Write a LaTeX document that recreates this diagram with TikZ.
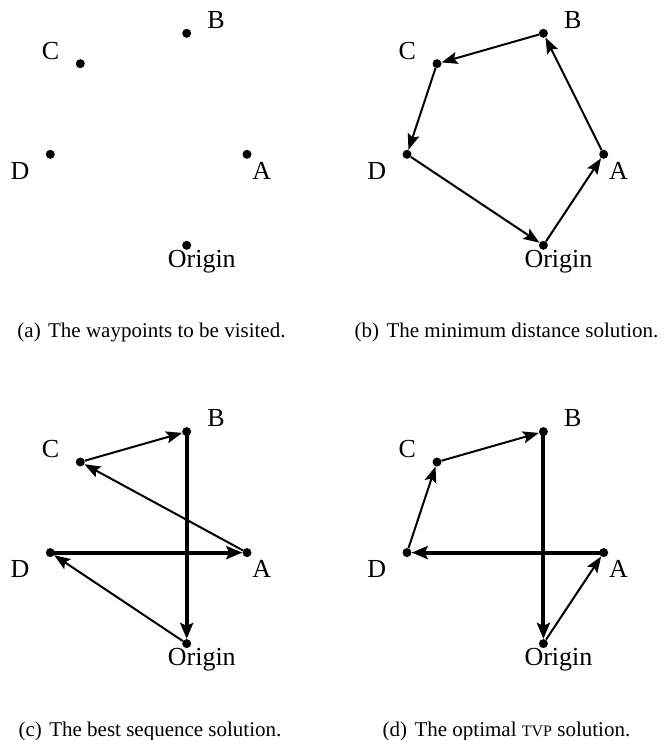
\documentclass[tikz,border=0pt]{standalone}
\usepackage{fontspec}
\setmainfont{Liberation Serif}
\usetikzlibrary{arrows.meta}
\tikzset{
  pt/.style={circle,fill=black,inner sep=0pt,minimum size=9pt},
  lbl/.style={anchor=base,inner sep=0pt,font=\fontsize{26}{30}\selectfont},
  captext/.style={anchor=base,inner sep=0pt,font=\fontsize{21}{25}\selectfont},
  thinarr/.style={line width=2pt,-{Stealth[length=16pt,width=12pt,inset=3pt]}},
  thickarr/.style={line width=4pt,-{Stealth[length=16pt,width=13pt,inset=3pt]}},
}
\newcommand{\waypoints}[1]{%
  \node[pt] (#1O) at (186.7,245.3) {};
  \node[pt] (#1A) at (247,154.3) {};
  \node[pt] (#1B) at (186.7,33.3) {};
  \node[pt] (#1C) at (80.3,63.7) {};
  \node[pt] (#1D) at (50.3,154.3) {};
  \node[lbl] (#1Bl) at (216,28.3) {B};
  \node[lbl] (#1Cl) at (50.5,59) {C};
  \node[lbl] (#1Dl) at (20,179.3) {D};
  \node[lbl] (#1Al) at (261.7,179.3) {A};
  \node[lbl] (#1Ol) at (201.8,267) {Origin};
}
\begin{document}
\begin{tikzpicture}[x=1pt,y=-1pt]
\useasboundingbox (0,0) rectangle (663,740);
% (a)
\begin{scope}
  \waypoints{a}
\end{scope}
\node[captext] (capa) at (151.5,337) {(a)\hspace{0.35em}The waypoints to be visited.};
% (b)
\begin{scope}[shift={(356.7,0)}]
  \waypoints{b}
\end{scope}
\draw[thinarr] (bO) -- (bA);
\draw[thinarr] (bA) -- (bB);
\draw[thinarr] (bB) -- (bC);
\draw[thinarr] (bC) -- (bD);
\draw[thinarr] (bD) -- (bO);
\node[captext] (capb) at (506.5,337) {(b)\hspace{0.35em}The minimum distance solution.};
% (c)
\begin{scope}[shift={(0,398.3)}]
  \waypoints{c}
\end{scope}
\draw[thinarr] (cO) -- (cD);
\draw[thickarr] (cD.center) -- (cA);
\draw[thinarr] (cA) -- (cC);
\draw[thinarr] (cC) -- (cB);
\draw[thickarr] (cB.center) -- (cO);
\node[captext] (capc) at (150,736) {(c)\hspace{0.35em}The best sequence solution.};
% (d)
\begin{scope}[shift={(356.7,398.3)}]
  \waypoints{d}
\end{scope}
\draw[thinarr] (dO) -- (dA);
\draw[thickarr] (dA.center) -- (dD);
\draw[thinarr] (dD) -- (dC);
\draw[thinarr] (dC) -- (dB);
\draw[thickarr] (dB.center) -- (dO);
\node[captext] (capd) at (506.5,736) {(d)\hspace{0.35em}The optimal {\fontsize{16}{20}\selectfont TVP} solution.};
\end{tikzpicture}
\end{document}
